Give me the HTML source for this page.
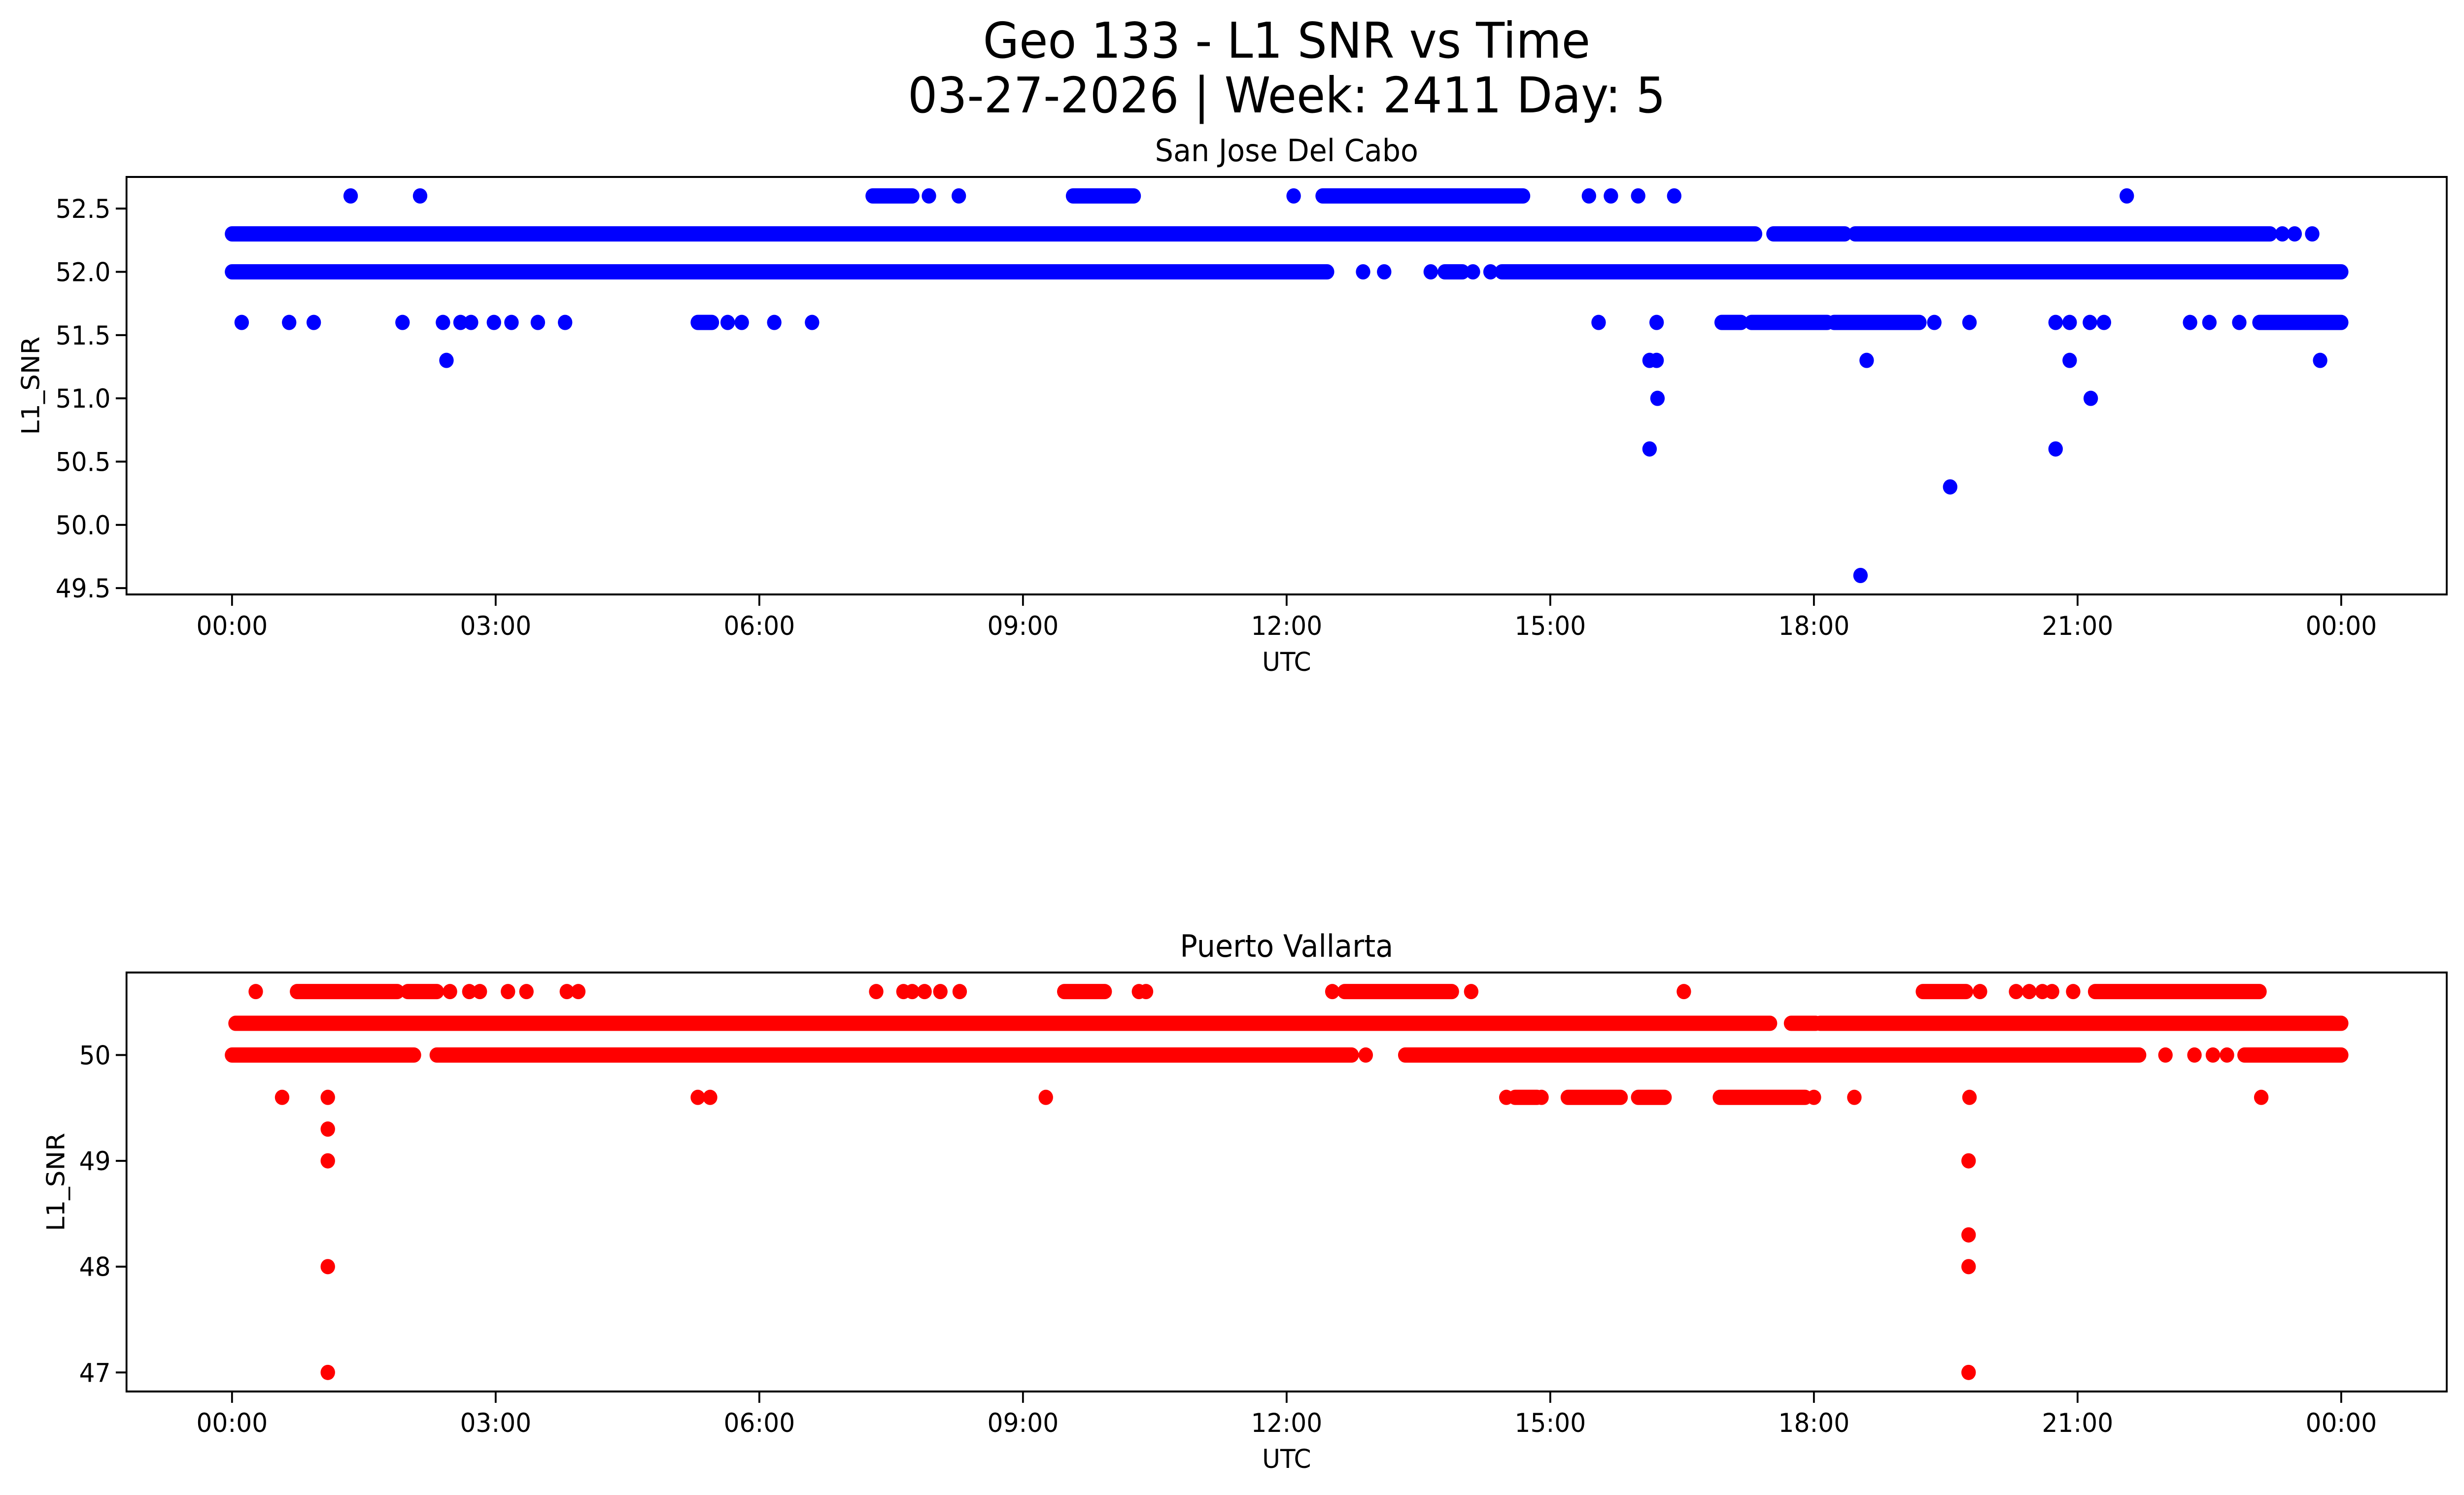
<!DOCTYPE html>
<html>
<head>
<meta charset="utf-8">
<style>
html,body{margin:0;padding:0;background:#fff;width:100%;height:100%;overflow:hidden;}
svg{display:block;position:fixed;left:0;top:0;width:100vw;height:100vh;font-family:"DejaVu Sans","Liberation Sans",sans-serif;}
</style>
</head>
<body>
<svg id="chart" viewBox="0 0 5278 3033" preserveAspectRatio="none" xmlns="http://www.w3.org/2000/svg">
<rect x="0" y="0" width="5278" height="3033" fill="#fff"/>
<text x="2756" y="117" font-size="100" text-anchor="middle">Geo 133 - L1 SNR vs Time</text>
<text x="2756" y="228" font-size="100" text-anchor="middle">03-27-2026 | Week: 2411 Day: 5</text>
<g id="top"></g>
<g id="bot"></g>
</svg>
<script>
// ---- Data (hours UTC) ----
const topLevels = [52.6, 52.3, 52.0, 51.6, 51.3, 51.0, 50.6, 50.3, 49.6];
const topRuns = [
  [[7.29,7.74],[9.57,10.26],[12.41,14.69]],
  [[0,17.33],[17.54,18.35],[18.47,23.19]],
  [[0,12.46],[13.8,14.0],[14.45,24]],
  [[5.3,5.46],[16.95,17.17],[17.29,18.15],[18.23,19.2],[23.07,24]],
  [],[],[],[],[]
];
const topDots = [
  [1.35,2.14,7.93,8.27,12.08,15.44,15.69,16.0,16.41,21.56],
  [23.33,23.47,23.67],
  [12.87,13.11,13.64,14.12,14.32],
  [0.11,0.65,0.93,1.94,2.4,2.6,2.72,2.98,3.18,3.48,3.79,5.64,5.8,6.17,6.6,15.55,16.21,19.37,19.77,20.75,20.91,21.14,21.3,22.28,22.5,22.84],
  [2.44,16.13,16.21,18.6,20.91,23.76],
  [16.22,21.15],
  [16.13,20.75],
  [19.55],
  [18.53]
];
const topYTicks = [49.5,50.0,50.5,51.0,51.5,52.0,52.5];
const topYLabels = ["49.5","50.0","50.5","51.0","51.5","52.0","52.5"];

const botLevels = [50.6, 50.3, 50.0, 49.6, 49.3, 49.0, 48.3, 48.0, 47.0];
const botRuns = [
  [[0.74,1.88],[2.0,2.33],[9.47,9.93],[12.66,13.88],[19.24,19.73],[21.2,23.07]],
  [[0.04,17.5],[17.74,18.02],[18.07,24]],
  [[0,2.07],[2.33,12.74],[13.35,21.7],[22.9,24]],
  [[14.6,14.85],[15.2,15.8],[16.0,16.3],[16.93,17.9]],
  [],[],[],[],[]
];
const botDots = [
  [0.27,2.48,2.7,2.82,3.14,3.35,3.81,3.94,7.33,7.64,7.74,7.88,8.06,8.28,10.32,10.4,12.52,14.1,16.52,19.89,20.3,20.45,20.6,20.71,20.95],
  [],
  [12.9,22.0,22.33,22.54,22.7],
  [0.57,1.09,5.3,5.44,9.26,14.5,14.9,18.0,18.46,19.77,23.09],
  [1.09],
  [1.09,19.76],
  [19.76],
  [1.09,19.76],
  [1.09,19.76]
];
const botYTicks = [47,48,49,50];
const botYLabels = ["47","48","49","50"];

const xTickHours = [0,3,6,9,12,15,18,21,24];
const xTickLabels = ["00:00","03:00","06:00","09:00","12:00","15:00","18:00","21:00","00:00"];

// ---- Drawing ----
const NS = "http://www.w3.org/2000/svg";
function mk(tag, attrs, parent){
  const e = document.createElementNS(NS, tag);
  for (const k in attrs) e.setAttribute(k, attrs[k]);
  parent.appendChild(e);
  return e;
}
const AX_L = 271, AX_R = 5241;
function xs(h){ return 497 + h * 188.25; }

function panel(g, cfg){
  const ys = v => cfg.top + (cfg.vmax - v) / (cfg.vmax - cfg.vmin) * (cfg.bottom - cfg.top);
  const t = mk('text', {x: (AX_L+AX_R)/2, y: cfg.top - 32, 'font-size': 62, 'text-anchor': 'middle'}, g);
  
  
  t.textContent = cfg.title;
  const marks = mk('g', {}, g);
  
  
  cfg.levels.forEach((lv, i) => {
    cfg.runs[i].forEach(r => {
      const l = mk('line', {x1: xs(r[0]), x2: xs(r[1]), y1: ys(lv), y2: ys(lv), stroke: cfg.color, 'stroke-width': 31, 'stroke-linecap': 'round'}, marks);
      
      
    });
    cfg.dots[i].forEach(h => {
      const c = mk('circle', {cx: xs(h), cy: ys(lv), r: 15.5, fill: cfg.color}, marks);
      
      
    });
  });
  const fr = mk('rect', {x: AX_L, y: cfg.top, width: AX_R - AX_L, height: cfg.bottom - cfg.top, fill: 'none', stroke: '#000', 'stroke-width': 4}, g);
  
  
  cfg.yTicks.forEach((v, i) => {
    mk('line', {x1: AX_L - 23, x2: AX_L, y1: ys(v), y2: ys(v), stroke: '#000', 'stroke-width': 4}, g);
    const tl = mk('text', {x: AX_L - 34, y: ys(v) + 19, 'font-size': 53, 'text-anchor': 'end'}, g);
    
    
    tl.textContent = cfg.yLabels[i];
  });
  xTickHours.forEach((h, i) => {
    mk('line', {x1: xs(h), x2: xs(h), y1: cfg.bottom, y2: cfg.bottom + 23, stroke: '#000', 'stroke-width': 4}, g);
    const tl = mk('text', {x: xs(h), y: cfg.bottom + 82, 'font-size': 53, 'text-anchor': 'middle'}, g);
    
    
    tl.textContent = xTickLabels[i];
  });
  const xl = mk('text', {x: (AX_L+AX_R)/2, y: cfg.bottom + 155, 'font-size': 53, 'text-anchor': 'middle'}, g);
  
  
  xl.textContent = 'UTC';
  const cy = (cfg.top + cfg.bottom) / 2;
  const yl = mk('text', {x: cfg.ylabX, y: cy, 'font-size': 53, 'text-anchor': 'middle', transform: 'rotate(-90 ' + cfg.ylabX + ' ' + cy + ')'}, g);
  
  
  yl.textContent = 'L1_SNR';
}

panel(document.getElementById('top'), {
  title: 'San Jose Del Cabo', top: 359, bottom: 1206, vmin: 49.45, vmax: 52.75,
  levels: topLevels, runs: topRuns, dots: topDots, yTicks: topYTicks, yLabels: topYLabels,
  color: '#0000ff', ylabX: 84
});
panel(document.getElementById('bot'), {
  title: 'Puerto Vallarta', top: 1973, bottom: 2823, vmin: 46.82, vmax: 50.78,
  levels: botLevels, runs: botRuns, dots: botDots, yTicks: botYTicks, yLabels: botYLabels,
  color: '#ff0000', ylabX: 138
});
</script>
</body>
</html>
